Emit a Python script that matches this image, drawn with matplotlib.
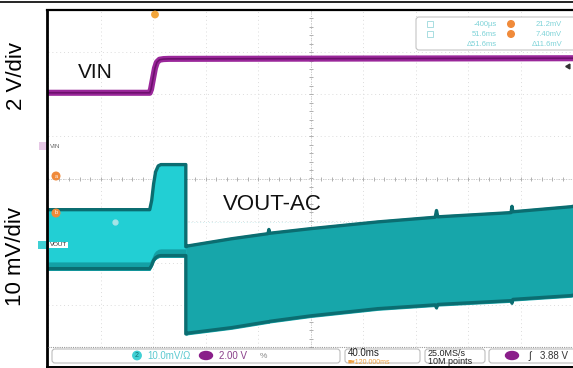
import numpy as np
import matplotlib.pyplot as plt
from matplotlib.patches import FancyBboxPatch, Ellipse, Circle, Rectangle

plt.rcParams['font.family'] = ['Liberation Sans', 'DejaVu Sans']

# Scope settings
t_div = 40.0          # ms/div
t_start = -80.0       # ms at left edge of the screen
vin_scale = 2.0       # V/div
vin_pos = 0.77        # div, channel 1 ground marker
vout_scale = 10.0     # mV/div
vout_pos = -1.58      # div, channel 2 ground marker
trig_level = 3.88     # V

# VIN (V) around the trigger
vin_t = [-80.0, -2.5, -1.5, 0.0, 1.5, 3.0, 5.0, 8.0, 12.0, 320.0]
vin_v = [2.53, 2.53, 2.70, 3.20, 3.70, 3.98, 4.10, 4.13, 4.14, 4.17]

# VOUT-AC ripple envelope (mV)
vout_t = [-80.0, -2.5, -1.0, 0.5, 2.0, 4.0, 6.0, 25.0, 25.0, 26.7, 60.0,
          87.6, 88.3, 89.0, 120.4, 171.4, 215.0, 216.0, 217.0, 272.8,
          273.5, 274.2, 318.5, 320.0]
vout_top = [8.8, 8.8, 11.0, 15.0, 17.8, 19.2, 19.5, 19.5, 0.0, 0.2, 1.9,
            3.1, 4.1, 3.2, 4.3, 5.9, 7.0, 8.6, 7.1, 8.1, 9.6, 8.3, 9.5,
            9.6]
vout_bot = [-6.0, -6.0, -5.2, -4.0, -3.4, -3.0, -2.9, -2.9, -21.5, -21.3,
            -20.0, -18.6, -18.6, -18.5, -17.2, -15.5, -14.6, -15.3, -14.5,
            -13.6, -14.2, -13.3, -12.4, -12.3]

# Top-right cursor readout
cur_col1 = ['-400\u00b5s', '51.6ms', '\u039451.6ms']
cur_col2 = ['21.2mV', '7.40mV', '\u039411.6mV']

vin_div = np.array(vin_v) / vin_scale + vin_pos
vout_top_div = np.array(vout_top) / vout_scale + vout_pos
vout_bot_div = np.array(vout_bot) / vout_scale + vout_pos
vout_t = np.array(vout_t)

W, H = 573, 368
fig = plt.figure(figsize=(W / 100, H / 100), dpi=100, facecolor='white')

# Scope screen
x0, x1, y0, y1 = 48, 573, 10, 347
axS = fig.add_axes([x0 / W, (H - y1) / H, (x1 - x0) / W, (y1 - y0) / H])
axS.set_xlim(t_start, t_start + 10 * t_div)
axS.set_ylim(-4, 4)
axS.set_facecolor('white')
for s in axS.spines.values():
    s.set_visible(False)
axS.set_xticks(np.arange(t_start, t_start + 10 * t_div + 1, t_div))
axS.set_yticks(np.arange(-4, 5, 1))
axS.tick_params(left=False, bottom=False, labelleft=False, labelbottom=False)
axS.grid(True, color='#dcdcdc', lw=0.7, linestyle=(0, (1, 3)))

# centre cross with minor ticks
t_mid = t_start + 5 * t_div
axS.axhline(0, color='#c4c4c4', lw=0.7, linestyle=(0, (1, 1.5)))
axS.axvline(t_mid, color='#c4c4c4', lw=0.7, linestyle=(0, (1, 1.5)))
axS.plot(np.arange(t_start, t_start + 10 * t_div, t_div / 5),
         np.zeros(50), '|', color='#b0b0b0', ms=3, mew=0.7)
axS.plot(np.full(40, t_mid), np.arange(-4, 4, 0.2), '_', color='#b0b0b0',
         ms=3, mew=0.7)

# cursor line
axS.axhline(-1.04, color='#cfeef0', lw=0.7, linestyle=(0, (1, 2)))
axS.plot([-29], [-1.04], 'o', color='#a6e4e7', ms=3.5, zorder=6)

# VOUT ripple band
axS.fill_between(vout_t, vout_bot_div, vout_top_div, color='#17a6aa',
                 lw=0, zorder=3)
pre = vout_t <= 25.0
pre[8] = False
axS.fill_between(vout_t, vout_bot_div, vout_top_div, where=pre,
                 color='#22cfd4', lw=0, zorder=3)
axS.fill_between(vout_t, vout_bot_div, vout_bot_div + 0.2, where=pre,
                 color='#14a0a5', lw=0, zorder=3)
axS.plot(vout_t, vout_top_div - 0.04, color='#0b6d71', lw=2.4, zorder=4)
axS.plot(vout_t, vout_bot_div + 0.04, color='#0b6d71', lw=2.4, zorder=4)

# VIN trace
axS.plot(vin_t, vin_div, color='#9a279a', lw=4.4, solid_capstyle='butt',
         zorder=5)
axS.plot(vin_t, vin_div, color='#6d106d', lw=1.2, zorder=5)

# Overlay in pixel coordinates
ax0 = fig.add_axes([0, 0, 1, 1])
ax0.set_xlim(0, W)
ax0.set_ylim(H, 0)
ax0.set_facecolor('none')
ax0.axis('off')

ax0.plot([0, W], [1.5, 1.5], color='black', lw=1.2)
ax0.plot([47, W], [10, 10], color='black', lw=1.6)
ax0.plot([47, 47], [10, H], color='black', lw=2.0)
ax0.plot([47, W], [366.5, 366.5], color='black', lw=1.4)

ax0.text(16, 76, '2 V/div', rotation=90, fontsize=16, ha='center',
         va='center')
ax0.text(16, 256, '10 mV/div', rotation=90, fontsize=16, ha='center',
         va='center')
ax0.text(95, 72, 'VIN', fontsize=15, ha='center', va='center',
         color='#111111')
ax0.text(272, 205, 'VOUT-AC', fontsize=16, ha='center', va='center',
         color='#111111')

# channel markers
ax0.add_patch(Rectangle((39, 142), 8, 8, color='#e6c8e6', lw=0))
ax0.text(50, 146, 'VIN', fontsize=4.5, va='center', color='#666666')
ax0.add_patch(Rectangle((38, 241), 9, 8, color='#3fd0d4', lw=0))
ax0.text(50, 245, 'VOUT', fontsize=4.5, va='center', color='#333333',
         bbox=dict(boxstyle='square,pad=0.15', fc='white', ec='none'))
for yy, lab in [(176, 'a'), (213, 'b')]:
    ax0.add_patch(Circle((56, yy), 3.8, color='#f08a3a', zorder=6))
    ax0.text(56, yy, lab, fontsize=4, color='white', ha='center',
             va='center', zorder=7)
ax0.add_patch(Circle((155, 14.5), 3.2, color='#f2a53a', zorder=6))
ax0.plot([568], [66], marker=(3, 0, 90), color='#333333', ms=4)

# cursor readout box
ax0.add_patch(FancyBboxPatch((416, 17), 170, 33,
                             boxstyle='round,pad=0,rounding_size=3',
                             fc='white', ec='#c4c4c4', lw=0.8))
for i, yy in enumerate([24, 34, 44]):
    if i < 2:
        ax0.add_patch(Rectangle((427, yy - 3), 6, 6, fc='none',
                                ec='#9ad8dc', lw=0.6))
        ax0.add_patch(Circle((511, yy), 3.3, color='#f08a3a'))
    ax0.text(497, yy, cur_col1[i], fontsize=5.5, ha='right', va='center',
             color='#7fd3d8')
    ax0.text(562, yy, cur_col2[i], fontsize=5.5, ha='right', va='center',
             color='#7fd3d8')

# status bar
ax0.plot([48, W], [347, 347], color='#999999', lw=0.8,
         linestyle=(0, (1, 1)))
for bx, bw in [(52, 288), (345, 75), (425, 60), (489, 90)]:
    ax0.add_patch(FancyBboxPatch((bx, 349), bw, 14,
                                 boxstyle='round,pad=0,rounding_size=3',
                                 fc='white', ec='#bdbdbd', lw=0.8))
ax0.add_patch(Circle((137, 355.5), 4.2, color='#3fd0d4'))
ax0.text(137, 355.8, '2', fontsize=5, ha='center', va='center',
         color='#0c6f73')
ax0.text(147, 356, '10.0mV/\u03a9', fontsize=7, va='center',
         color='#5cc9d0')
ax0.add_patch(Ellipse((206, 355.5), 13, 8, color='#8a1f8a'))
ax0.text(219, 356, '2.00 V', fontsize=7, va='center', color='#8a3f8a')
ax0.text(260, 356, '%', fontsize=6, va='center', color='#888888')
ax0.text(348, 353.5, '40.0ms', fontsize=7, va='center', color='#222222')
ax0.text(348, 362, '\u25a0\u25be120.000ms', fontsize=5, va='center',
         color='#f0a040')
ax0.text(428, 353.5, '25.0MS/s', fontsize=6.5, va='center', color='#222222')
ax0.text(428, 362, '10M points', fontsize=6.5, va='center', color='#222222')
ax0.add_patch(Ellipse((512, 355.5), 13, 8, color='#8a1f8a'))
ax0.text(528, 356, '\u222b', fontsize=7, va='center', color='#222222')
ax0.text(540, 356, '%.2f V' % trig_level, fontsize=7, va='center',
         color='#333333')

fig.savefig('out.png', dpi=100, facecolor='white')
